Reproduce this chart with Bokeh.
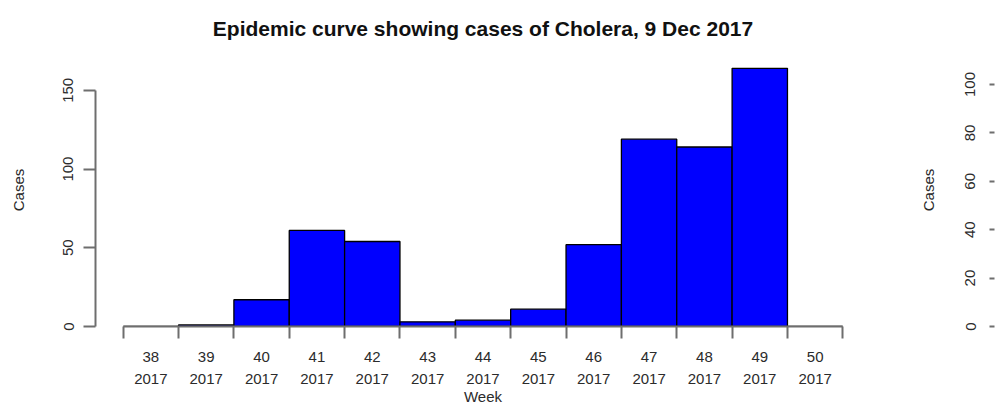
from bokeh.plotting import figure
from bokeh.layouts import row
from bokeh.models import FixedTicker, Range1d
from bokeh.embed import file_html
from bokeh.resources import INLINE

# ---- data ----
weeks = [38, 39, 40, 41, 42, 43, 44, 45, 46, 47, 48, 49, 50]
years = ["2017"] * 13
cases = [0, 1, 17, 61, 54, 3, 4, 11, 52, 119, 114, 164, 0]
y_ticks = [0, 50, 100, 150]
y_ticks_2 = [0, 20, 40, 60, 80, 100]

title_text = "Epidemic curve showing cases of Cholera, 9 Dec 2017"
FONT = "Liberation Sans"
AXIS_GREY = "#6e6e6e"
TEXT_COL = "#2b2b2b"

edges = [w - 0.5 for w in weeks] + [weeks[-1] + 0.5]

p = figure(width=908, height=407, output_backend="svg", toolbar_location=None,
           x_range=Range1d(37.0, 51.0), y_range=Range1d(0, 173.4),
           min_border_left=95, min_border_right=38, min_border_top=52,
           min_border_bottom=81, title=title_text)
p.title.align = "center"
p.title.text_font = FONT
p.title.text_font_size = "21px"
p.title.text_font_style = "bold"
p.title.text_color = "#111111"
p.title.standoff = 28
p.outline_line_color = None
p.grid.visible = False
p.background_fill_color = "white"
p.border_fill_color = "white"

p.vbar(x=weeks, top=cases, width=1.0, bottom=0, fill_color="#0000FF",
       line_color="#000000", line_width=1.3)

xa = p.xaxis[0]
xa.ticker = FixedTicker(ticks=weeks, minor_ticks=edges)
xa.major_label_overrides = {w: f"{w}\n{y}" for w, y in zip(weeks, years)}
xa.bounds = (edges[0], edges[-1])
xa.axis_line_color = AXIS_GREY
xa.axis_line_width = 2
xa.major_tick_line_color = None
xa.major_tick_out = 12
xa.major_tick_in = 0
xa.minor_tick_line_color = AXIS_GREY
xa.minor_tick_line_width = 2
xa.minor_tick_out = 12
xa.minor_tick_in = 0
xa.major_label_text_font = FONT
xa.major_label_text_font_size = "15px"
xa.major_label_text_color = TEXT_COL
xa.major_label_text_line_height = 1.3
xa.major_label_standoff = 9
xa.axis_label = "Week"
xa.axis_label_text_font = FONT
xa.axis_label_text_font_size = "15px"
xa.axis_label_text_font_style = "normal"
xa.axis_label_text_color = TEXT_COL
xa.axis_label_standoff = -2

ya = p.yaxis[0]
ya.ticker = FixedTicker(ticks=y_ticks)
ya.bounds = (y_ticks[0], y_ticks[-1])
ya.axis_line_color = AXIS_GREY
ya.axis_line_width = 2
ya.major_tick_line_color = AXIS_GREY
ya.major_tick_line_width = 2
ya.major_tick_out = 12
ya.major_tick_in = 0
ya.minor_tick_line_color = None
ya.major_label_orientation = "vertical"
ya.major_label_text_font = FONT
ya.major_label_text_font_size = "15px"
ya.major_label_text_color = TEXT_COL
ya.major_label_standoff = 10
ya.axis_label = "Cases"
ya.axis_label_text_font = FONT
ya.axis_label_text_font_size = "15px"
ya.axis_label_text_font_style = "normal"
ya.axis_label_text_color = TEXT_COL
ya.axis_label_standoff = 34

# ---- second (partially visible) chart ----
p2 = figure(width=87, height=407, output_backend="svg", toolbar_location=None,
            x_range=Range1d(0, 1), y_range=Range1d(0, 112.8),
            min_border_left=86, min_border_right=0, min_border_top=52,
            min_border_bottom=81)
p2.outline_line_color = None
p2.grid.visible = False
p2.xaxis.visible = False
ya2 = p2.yaxis[0]
ya2.ticker = FixedTicker(ticks=y_ticks_2)
ya2.axis_line_color = None
ya2.major_tick_line_color = AXIS_GREY
ya2.major_tick_line_width = 2
ya2.major_tick_out = 5
ya2.major_tick_in = 0
ya2.minor_tick_line_color = None
ya2.major_label_orientation = "vertical"
ya2.major_label_text_font = FONT
ya2.major_label_text_font_size = "15px"
ya2.major_label_text_color = TEXT_COL
ya2.major_label_standoff = 14
ya2.axis_label = "Cases"
ya2.axis_label_text_font = FONT
ya2.axis_label_text_font_size = "15px"
ya2.axis_label_text_font_style = "normal"
ya2.axis_label_text_color = TEXT_COL
ya2.axis_label_standoff = 26

layout = row(p, p2)
open("out.html", "w").write(file_html(layout, INLINE))
